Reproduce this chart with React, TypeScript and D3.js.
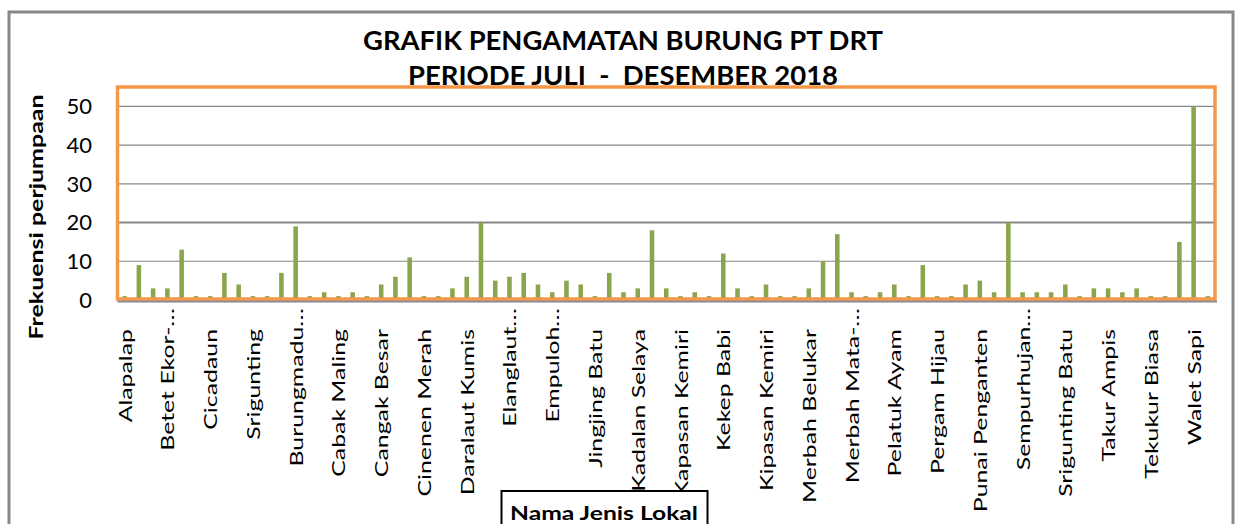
import React from "react";
import * as d3 from "d3";

const titleLines = ["GRAFIK PENGAMATAN BURUNG PT DRT", "PERIODE JULI  -  DESEMBER 2018"];
const yTitle = "Frekuensi perjumpaan";
const xTitle = "Nama Jenis Lokal";

// 77 species (only every 3rd is labelled in the chart)
const values = [
  1, 9, 3, 3, 13, 1, 1, 7, 4, 1, 1, 7, 19, 1, 2, 1, 2, 1, 4, 6,
  11, 1, 1, 3, 6, 20, 5, 6, 7, 4, 2, 5, 4, 1, 7, 2, 3, 18, 3, 1,
  2, 1, 12, 3, 1, 4, 1, 1, 3, 10, 17, 2, 1, 2, 4, 1, 9, 1, 1, 4,
  5, 2, 20, 2, 2, 2, 4, 1, 3, 3, 2, 3, 1, 1, 15, 50, 1,
];

const tickLabels = [
  "Alapalap", "Betet Ekor-…", "Cicadaun", "Srigunting", "Burungmadu…",
  "Cabak Maling", "Cangak Besar", "Cinenen Merah", "Daralaut Kumis", "Elanglaut…",
  "Empuloh…", "Jingjing Batu", "Kadalan Selaya", "Kapasan Kemiri", "Kekep Babi",
  "Kipasan Kemiri", "Merbah Belukar", "Merbah Mata-…", "Pelatuk Ayam", "Pergam Hijau",
  "Punai Penganten", "Sempurhujan…", "Srigunting Batu", "Takur Ampis", "Tekukur Biasa",
  "Walet Sapi",
];
const tickEvery = 3;
const yTicks = [0, 10, 20, 30, 40, 50];

const W = 1239;
const H = 524;
const plot = { left: 117.5, right: 1215, top: 87, bottom: 300 };
const FONT = "Lato, 'Open Sans', sans-serif";

export default function App() {
  const x = d3
    .scaleBand<number>()
    .domain(d3.range(values.length))
    .range([plot.left, plot.right])
    .paddingInner(0.68)
    .paddingOuter(0.34);
  const y = d3.scaleLinear().domain([0, 55]).range([plot.bottom, plot.top]);

  return (
    <svg
      width={W}
      height={H}
      style={{ position: "absolute", left: 0, top: 0, background: "#fff" }}
    >
      {/* outer chart frame */}
      <rect x={9} y={12} width={1224} height={600} fill="none" stroke="#888" strokeWidth={3} />

      {/* titles */}
      {titleLines.map((t, i) => (
        <text
          key={t}
          x={623}
          y={50 + i * 35}
          textAnchor="middle"
          fontFamily={FONT}
          fontWeight="bold"
          fontSize={27}
          textLength={i === 0 ? 520 : 430}
          lengthAdjust="spacingAndGlyphs"
          fill="#000"
          style={{ whiteSpace: "pre" }}
        >
          {t}
        </text>
      ))}

      {/* gridlines */}
      {yTicks.filter((v) => v > 0).map((v) => (
        <line
          key={v}
          x1={plot.left}
          x2={plot.right}
          y1={y(v)}
          y2={y(v)}
          stroke="#878787"
          strokeWidth={v === 20 ? 2 : 1.2}
        />
      ))}

      {/* y tick labels */}
      {yTicks.map((v) => (
        <text
          key={v}
          x={92}
          y={y(v)}
          dy="0.36em"
          textAnchor="end"
          fontFamily={FONT}
          fontSize={22}
          fill="#000"
        >
          {v}
        </text>
      ))}

      {/* bars */}
      {values.map((v, i) => (
        <rect
          key={i}
          x={x(i)!}
          y={y(v)}
          width={x.bandwidth()}
          height={y(0) - y(v)}
          fill="#89A54E"
        />
      ))}

      {/* plot area border */}
      <rect
        x={plot.left}
        y={plot.top}
        width={plot.right - plot.left}
        height={plot.bottom - plot.top - 1}
        fill="none"
        stroke="#F79646"
        strokeWidth={3.5}
      />
      {/* category axis line */}
      <line x1={plot.left} x2={plot.right + 2} y1={plot.bottom + 1.5} y2={plot.bottom + 1.5} stroke="#878787" strokeWidth={2} />

      {/* category labels */}
      {tickLabels.map((t, k) => {
        const i = k * tickEvery;
        const cx = x(i)! + x.bandwidth() / 2 + 7;
        const top = t.endsWith("…") ? 308 : 329;
        return (
          <text
            key={t + k}
            transform={`translate(${cx},${top}) rotate(-90) scale(1.38,1)`}
            textAnchor="end"
            fontFamily={FONT}
            fontSize={18}
            fill="#000"
          >
            {t}
          </text>
        );
      })}

      {/* y axis title */}
      <text
        transform={`translate(43,217) rotate(-90)`}
        textAnchor="middle"
        fontFamily={FONT}
        fontWeight="bold"
        fontSize={18}
        textLength={245}
        lengthAdjust="spacingAndGlyphs"
        fill="#000"
      >
        {yTitle}
      </text>

      {/* x axis title box */}
      <rect x={501.5} y={491} width={206} height={60} fill="#fff" stroke="#000" strokeWidth={2} />
      <text
        x={604}
        y={520}
        textAnchor="middle"
        fontFamily={FONT}
        fontWeight="bold"
        fontSize={19.5}
        textLength={188}
        lengthAdjust="spacingAndGlyphs"
        fill="#000"
      >
        {xTitle}
      </text>
    </svg>
  );
}
